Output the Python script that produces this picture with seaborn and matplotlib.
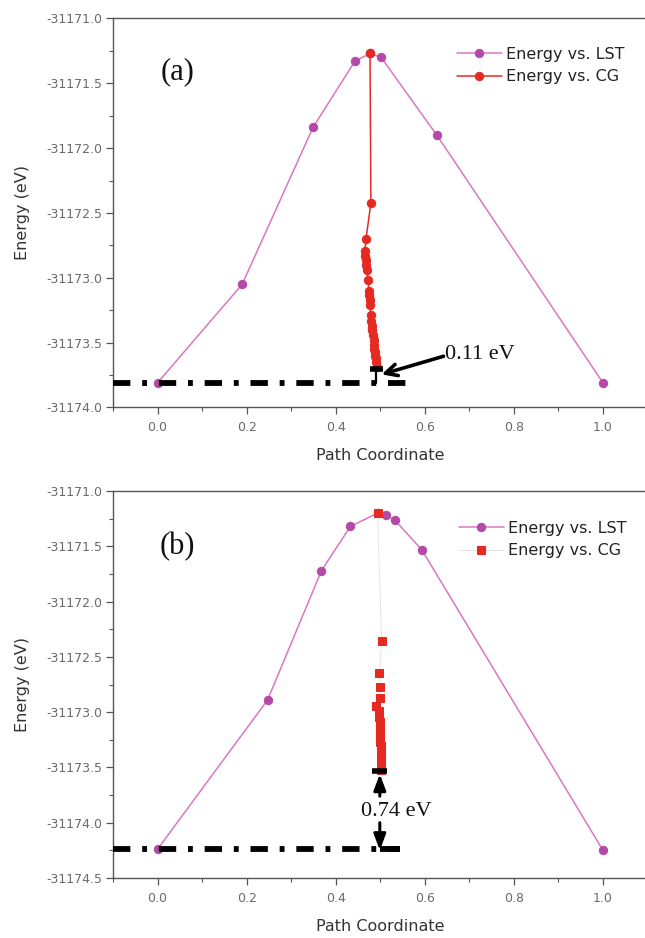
import matplotlib
matplotlib.use("Agg")
import matplotlib.pyplot as plt
import matplotlib.ticker as mticker
import seaborn as sns
import pandas as pd

# ---------------- data ----------------
lst_a_x = [0.0, 0.190, 0.349, 0.443, 0.477, 0.502, 0.627, 1.0]
lst_a_y = [-31173.81, -31173.05, -31171.84, -31171.33, -31171.27, -31171.30, -31171.90, -31173.81]

cg_a_x = [0.477, 0.479, 0.468, 0.4657, 0.4667, 0.4676, 0.4685, 0.4694, 0.4731, 0.474, 0.475,
          0.4759, 0.4769, 0.4787, 0.4796, 0.4806, 0.4824, 0.4833, 0.4852, 0.4861, 0.487,
          0.488, 0.4889, 0.4898, 0.4907, 0.4917]
cg_a_y = [-31171.27, -31172.42, -31172.70, -31172.79, -31172.83, -31172.86, -31172.90, -31172.94,
          -31173.02, -31173.10, -31173.13, -31173.17, -31173.21, -31173.29, -31173.33, -31173.37,
          -31173.40, -31173.44, -31173.48, -31173.52, -31173.55, -31173.57, -31173.60, -31173.62,
          -31173.65, -31173.69]

lst_b_x = [0.0, 0.247, 0.368, 0.433, 0.494, 0.512, 0.532, 0.593, 1.0]
lst_b_y = [-31174.24, -31172.89, -31171.72, -31171.32, -31171.20, -31171.22, -31171.26, -31171.53, -31174.25]

cg_b_x = [0.494, 0.503, 0.498, 0.499, 0.500, 0.490, 0.497, 0.498, 0.499, 0.499, 0.500, 0.500,
          0.500, 0.501, 0.501, 0.501, 0.501, 0.501, 0.501]
cg_b_y = [-31171.20, -31172.36, -31172.65, -31172.77, -31172.87, -31172.94, -31172.99, -31173.04,
          -31173.09, -31173.13, -31173.18, -31173.22, -31173.27, -31173.31, -31173.36, -31173.40,
          -31173.44, -31173.48, -31173.52]

ref_a = -31173.81       # dash-dot reference level (a)
cg_end_a = -31173.70    # end of CG (a)
ref_b = -31174.24
cg_end_b = -31173.53

xticks = [0.0, 0.2, 0.4, 0.6, 0.8, 1.0]
label_lst = "Energy vs. LST"
label_cg = "Energy vs. CG"
gap_a = "0.11 eV"
gap_b = "0.74 eV"

# ---------------- style ----------------
sns.set_theme(style="ticks")
plt.rcParams["font.family"] = ["DejaVu Sans"]
plt.rcParams["axes.unicode_minus"] = False
plt.rcParams["lines.scale_dashes"] = False

LST_LINE = "#d878c2"
LST_MARK = "#b44aa8"
CG_RED = "#e62a22"
SPINE = "#555555"
TICKLAB = "#6a6a6a"

fig = plt.figure(figsize=(6.45, 9.38), dpi=100)
ax_a = fig.add_axes([0.1752, 0.5656, 0.8287, 0.4147])
ax_b = fig.add_axes([0.1752, 0.0640, 0.8287, 0.4125])


def style_axes(ax, ylim, yticks):
    ax.set_xlim(-0.1, 1.1)
    ax.set_ylim(*ylim)
    ax.set_xticks(xticks)
    ax.xaxis.set_major_formatter(mticker.FormatStrFormatter("%.1f"))
    ax.xaxis.set_minor_locator(mticker.MultipleLocator(0.1))
    ax.set_yticks(yticks)
    ax.yaxis.set_major_formatter(mticker.FormatStrFormatter("%.1f"))
    ax.yaxis.set_minor_locator(mticker.MultipleLocator(0.25))
    for s in ["left", "top", "bottom"]:
        ax.spines[s].set_color(SPINE)
        ax.spines[s].set_linewidth(1.0)
    ax.spines["right"].set_visible(False)
    ax.tick_params(axis="both", which="major", direction="out", length=5, width=0.9,
                   color=SPINE, labelcolor=TICKLAB, labelsize=9)
    ax.tick_params(axis="both", which="minor", direction="out", length=3, width=0.8, color=SPINE)
    ax.tick_params(axis="x", which="major", pad=5)
    ax.tick_params(axis="y", which="major", pad=2.5)
    ax.set_xlabel("Path Coordinate", fontsize=11.5, color="#333333", labelpad=10)
    ax.set_ylabel("Energy (eV)", fontsize=11.5, color="#333333", labelpad=12)


def dashdot(ax, x0, x1, y):
    ax.plot([x0, x1], [y, y], color="black", lw=4.2, dashes=(12.5, 8.5, 3.5, 8.5),
            solid_capstyle="butt", dash_capstyle="butt", zorder=5)


# ---------------- panel (a) ----------------
df_lst_a = pd.DataFrame({"x": lst_a_x, "y": lst_a_y})
df_cg_a = pd.DataFrame({"x": cg_a_x, "y": cg_a_y})
sns.lineplot(data=df_lst_a, x="x", y="y", ax=ax_a, sort=False, estimator=None,
             color=LST_LINE, lw=1.1, marker="o", markersize=6, markerfacecolor=LST_MARK,
             markeredgecolor=LST_MARK, label=label_lst, zorder=3)
sns.lineplot(data=df_cg_a, x="x", y="y", ax=ax_a, sort=False, estimator=None,
             color=CG_RED, lw=1.1, marker="o", markersize=6, markerfacecolor=CG_RED,
             markeredgecolor=CG_RED, label=label_cg, zorder=4)
style_axes(ax_a, (-31174.0, -31171.0), [-31174.0, -31173.5, -31173.0, -31172.5, -31172.0, -31171.5, -31171.0])
dashdot(ax_a, -0.1, 0.575, ref_a)
# I-bar marking the gap
ax_a.plot([0.477, 0.507], [cg_end_a, cg_end_a], color="black", lw=4, solid_capstyle="butt", zorder=6)
ax_a.plot([0.491, 0.491], [cg_end_a, ref_a], color="black", lw=1.6, zorder=6)
ax_a.annotate("", xy=(0.503, -31173.745), xytext=(0.642, -31173.605),
              arrowprops=dict(arrowstyle="->,head_length=0.7,head_width=0.35", lw=2.6, color="black",
                              shrinkA=0, shrinkB=0), zorder=7)
ax_a.text(0.645, -31173.59, gap_a, fontsize=16, family="Liberation Serif", ha="left", va="center",
          color="#111111")
ax_a.text(0.045, -31171.41, "(a)", fontsize=22, family="Liberation Serif", ha="center", va="center",
          color="#111111")
leg = ax_a.legend(loc="upper left", bbox_to_anchor=(0.6436, 0.9267), frameon=False, fontsize=11.5,
                  handlelength=2.8, handletextpad=0.25, labelspacing=0.45, borderpad=0, borderaxespad=0)
for t in leg.get_texts():
    t.set_color("#222222")

# ---------------- panel (b) ----------------
df_lst_b = pd.DataFrame({"x": lst_b_x, "y": lst_b_y})
df_cg_b = pd.DataFrame({"x": cg_b_x, "y": cg_b_y})
sns.lineplot(data=df_lst_b, x="x", y="y", ax=ax_b, sort=False, estimator=None,
             color=LST_LINE, lw=1.1, marker="o", markersize=6, markerfacecolor=LST_MARK,
             markeredgecolor=LST_MARK, label=label_lst, zorder=3)
sns.lineplot(data=df_cg_b, x="x", y="y", ax=ax_b, sort=False, estimator=None,
             color="#e4e4e4", lw=0.7, marker="s", markersize=5.5, markerfacecolor=CG_RED,
             markeredgecolor=CG_RED, label=label_cg, zorder=4)
style_axes(ax_b, (-31174.5, -31171.0),
           [-31174.5, -31174.0, -31173.5, -31173.0, -31172.5, -31172.0, -31171.5, -31171.0])
dashdot(ax_b, -0.1, 0.545, ref_b)
ax_b.plot([0.481, 0.515], [cg_end_b, cg_end_b], color="black", lw=4, solid_capstyle="butt", zorder=6)
ax_b.plot([0.500, 0.545], [ref_b, ref_b], color="black", lw=4.2, solid_capstyle="butt", zorder=6)
ax_b.annotate("", xy=(0.499, -31173.56), xytext=(0.499, -31173.76),
              arrowprops=dict(arrowstyle="-|>,head_length=0.8,head_width=0.3", lw=2.2, color="black",
                              shrinkA=0, shrinkB=0), zorder=7)
ax_b.annotate("", xy=(0.499, -31174.25), xytext=(0.499, -31174.0),
              arrowprops=dict(arrowstyle="-|>,head_length=0.8,head_width=0.3", lw=2.2, color="black",
                              shrinkA=0, shrinkB=0), zorder=7)
ax_b.text(0.535, -31173.895, gap_b, fontsize=16, family="Liberation Serif", ha="center", va="center",
          color="#111111")
ax_b.text(0.045, -31171.50, "(b)", fontsize=22, family="Liberation Serif", ha="center", va="center",
          color="#111111")
leg = ax_b.legend(loc="upper left", bbox_to_anchor=(0.647, 0.9225), frameon=False, fontsize=11.5,
                  handlelength=2.8, handletextpad=0.25, labelspacing=0.45, borderpad=0, borderaxespad=0)
for t in leg.get_texts():
    t.set_color("#222222")

fig.savefig("out.png", dpi=100)
